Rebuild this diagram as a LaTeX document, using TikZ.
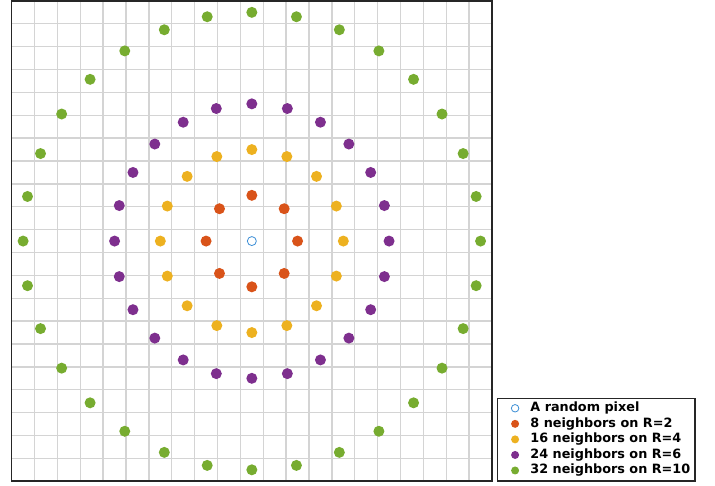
\documentclass[tikz,border=0pt]{standalone}
\usepackage{fontspec}
\setmainfont{DejaVu Sans}
\usetikzlibrary{positioning}
\definecolor{nbRed}{HTML}{D95319}
\definecolor{nbOrange}{HTML}{EDB120}
\definecolor{nbPurple}{HTML}{7E2F8E}
\definecolor{nbGreen}{HTML}{77AC30}
\definecolor{nbBlue}{HTML}{3D8FD6}
\definecolor{nbGrid}{HTML}{D4D4D4}
\definecolor{nbFrame}{HTML}{262626}
\begin{document}
\begin{tikzpicture}[
    x=22.87pt, y=22.87pt,
    every node/.style={font=\fontsize{12.8}{15}\selectfont\bfseries},
    gridline/.style={draw=nbGrid, line width=1.4pt},
    frame/.style={draw=nbFrame, line width=1.5pt},
    dot/.style={circle, fill=#1, inner sep=0pt, minimum size=11pt},
    centre/.style={circle, draw=nbBlue, line width=0.8pt, fill=white, inner sep=0pt, minimum size=9pt},
    legdot/.style={circle, fill=#1, inner sep=0pt, minimum size=8pt},
    legtext/.style={anchor=west, inner sep=0pt, text=black},
]
\useasboundingbox (-11.01,-10.67) rectangle (20.25,10.54);
% pixel grid, one cell per pixel
\foreach \i in {-9,...,10} {
  \draw[gridline] (\i-0.5,-10.5) -- (\i-0.5,10.5);
  \draw[gridline] (-10.5,\i-0.5) -- (10.5,\i-0.5);
}
\draw[frame] (-10.5,-10.5) rectangle (10.5,10.5);
% neighbours on the circles
\foreach \R/\N/\col in {2/8/nbRed, 4/16/nbOrange, 6/24/nbPurple, 10/32/nbGreen}
  \foreach \k in {1,...,\N}
    \node[dot=\col] (n\R-\k) at ({\R*cos(360*\k/\N)}, {\R*sin(360*\k/\N)}) {};
% the random pixel
\node[centre] (pixel) at (0,0) {};
% legend
\draw[frame, fill=white] (10.74,-6.89) rectangle (19.38,-10.49);
\node[centre, minimum size=7.5pt] (leg0) at (11.51,-7.31) {};
\node[legtext] (lt0) at (12.17,-7.31) {A random pixel};
\node[legdot=nbRed]    (leg1) at (11.51,-7.99) {};
\node[legtext] (lt1) at (12.17,-7.99) {8 neighbors on R=2};
\node[legdot=nbOrange] (leg2) at (11.51,-8.67) {};
\node[legtext] (lt2) at (12.17,-8.67) {16 neighbors on R=4};
\node[legdot=nbPurple] (leg3) at (11.51,-9.35) {};
\node[legtext] (lt3) at (12.17,-9.35) {24 neighbors on R=6};
\node[legdot=nbGreen]  (leg4) at (11.51,-10.03) {};
\node[legtext] (lt4) at (12.17,-10.03) {32 neighbors on R=10};
\end{tikzpicture}
\end{document}
